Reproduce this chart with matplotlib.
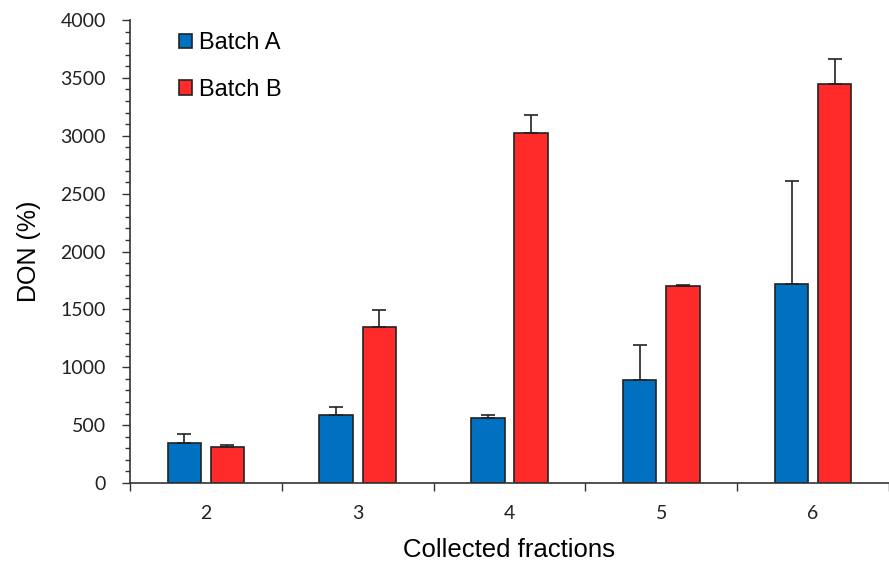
import matplotlib
import numpy as np

matplotlib.use("Agg")
from matplotlib import pyplot as plt  # noqa: E402
from matplotlib.ticker import MultipleLocator  # noqa: E402

fractions = ["2", "3", "4", "5", "6"]
batch_a = [348, 585, 562, 887, 1722]
batch_a_err = [78, 74, 23, 308, 890]
batch_b = [314, 1348, 3020, 1702, 3445]
batch_b_err = [14, 147, 160, 9, 215]

plt.rcParams["font.family"] = ["Liberation Sans", "DejaVu Sans"]

fig = plt.figure(figsize=(8.89, 5.61), dpi=100)
ax = fig.add_axes([0.1462, 0.139, 0.8538, 0.8253])

x = np.arange(len(fractions))
width = 0.22
offset = 0.142
err_style = dict(ecolor="#222222", elinewidth=1.2, capsize=5, capthick=1.2)

ax.bar(x - offset, batch_a, width, color="#0070C0", edgecolor="#222222", linewidth=1.2,
       yerr=[np.zeros(len(batch_a)), batch_a_err], error_kw=err_style, label="Batch A", zorder=2)
ax.bar(x + offset, batch_b, width, color="#FF2A2A", edgecolor="#222222", linewidth=1.2,
       yerr=[np.zeros(len(batch_b)), batch_b_err], error_kw=err_style, label="Batch B", zorder=2)

ax.set_xlim(-0.5, 4.47)
ax.set_ylim(0, 4000)
ax.yaxis.set_major_locator(MultipleLocator(500))
ax.yaxis.set_minor_locator(MultipleLocator(100))
ax.tick_params(axis="y", which="major", length=5.5, width=1, pad=12, labelsize=14, color="#333333")
ax.tick_params(axis="y", which="minor", length=3.5, width=1, color="#333333")

# category labels centred, tick marks on category boundaries
ax.set_xticks(x)
ax.set_xticklabels(fractions)
ax.set_xticks(np.arange(-0.5, len(fractions), 1.0), minor=True)
ax.tick_params(axis="x", which="major", length=0, labelsize=14, pad=16)
ax.tick_params(axis="x", which="minor", length=5.5, width=1, color="#333333")
for lbl in ax.get_xticklabels() + ax.get_yticklabels():
    lbl.set_family(["Lato", "DejaVu Sans"])
    lbl.set_color("#222222")

for side in ("top", "right"):
    ax.spines[side].set_visible(False)
for side in ("left", "bottom"):
    ax.spines[side].set_color("#333333")
    ax.spines[side].set_linewidth(1.2)

ax.set_ylabel("DON (%)", fontsize=18, va="center")
ax.yaxis.set_label_coords(-0.133, 0.5)
ax.set_xlabel("Collected fractions", fontsize=18.5, va="center")
ax.xaxis.set_label_coords(0.5, -0.145)

ax.legend(loc="upper left", bbox_to_anchor=(0.0646, 0.974), frameon=False, fontsize=17,
          borderpad=0, borderaxespad=0, handlelength=0.55, handleheight=0.55,
          handletextpad=0.3, labelspacing=1.05)

fig.savefig("out.png", dpi=100)
plt.close(fig)
